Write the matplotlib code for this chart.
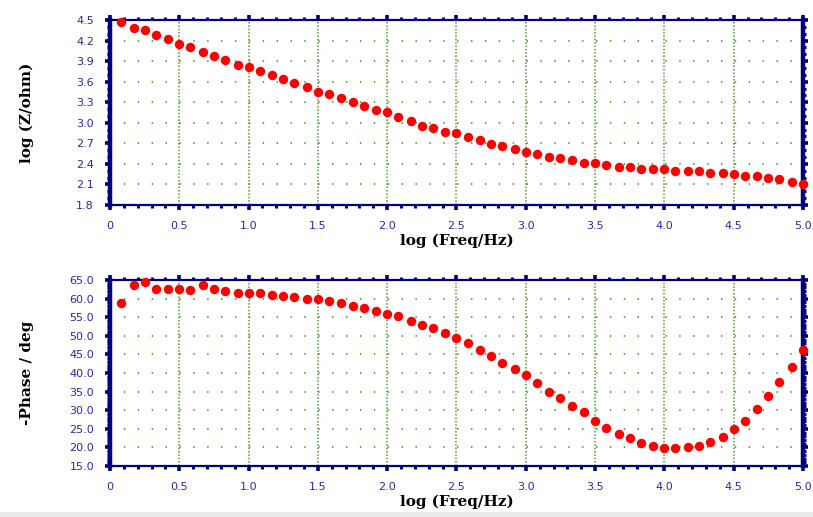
import numpy as np
import matplotlib
matplotlib.use("Agg")
import matplotlib.pyplot as plt
from matplotlib.ticker import MultipleLocator, FuncFormatter
from matplotlib.patches import Rectangle

# log frequency of each measured point
log_freq = [0.08, 0.17, 0.25, 0.33, 0.42, 0.50, 0.58, 0.67, 0.75, 0.83,
            0.92, 1.00, 1.08, 1.17, 1.25, 1.33, 1.42, 1.50, 1.58, 1.67,
            1.75, 1.83, 1.92, 2.00, 2.08, 2.17, 2.25, 2.33, 2.42, 2.50,
            2.58, 2.67, 2.75, 2.83, 2.92, 3.00, 3.08, 3.17, 3.25, 3.33,
            3.42, 3.50, 3.58, 3.67, 3.75, 3.83, 3.92, 4.00, 4.08, 4.17,
            4.25, 4.33, 4.42, 4.50, 4.58, 4.67, 4.75, 4.83, 4.92, 5.00]

log_z = [4.47, 4.39, 4.35, 4.28, 4.22, 4.15, 4.10, 4.03, 3.97, 3.91,
         3.85, 3.82, 3.76, 3.70, 3.64, 3.58, 3.52, 3.45, 3.42, 3.36,
         3.30, 3.24, 3.18, 3.15, 3.09, 3.02, 2.96, 2.93, 2.87, 2.85,
         2.79, 2.75, 2.69, 2.66, 2.61, 2.57, 2.54, 2.50, 2.48, 2.45,
         2.41, 2.42, 2.39, 2.35, 2.35, 2.33, 2.33, 2.33, 2.29, 2.29,
         2.29, 2.26, 2.26, 2.25, 2.23, 2.22, 2.20, 2.18, 2.14, 2.11]

neg_phase = [58.7, 63.7, 64.4, 62.7, 62.7, 62.7, 62.3, 63.6, 62.7, 62.1,
             61.4, 61.4, 61.6, 61.0, 60.6, 60.4, 59.9, 59.8, 59.3, 58.7,
             58.0, 57.6, 56.7, 55.8, 55.3, 54.0, 53.0, 52.0, 50.7, 49.4,
             48.0, 46.2, 44.6, 42.8, 41.1, 39.5, 37.3, 35.0, 33.2, 31.0,
             29.4, 27.1, 25.3, 23.5, 22.5, 21.3, 20.3, 19.8, 19.8, 20.2,
             20.5, 21.4, 22.9, 24.9, 27.0, 30.3, 33.8, 37.7, 41.7, 46.2]

NAVY = "#00007f"
GREEN = "#4f9a2f"
TICK_TXT = "#2828a8"
LABEL_FONT = ["DejaVu Serif"]
TICK_FONT = ["DejaVu Sans"]


def style_axes(ax, ylim, ymajor, yminor, yfmt, ylabel):
    ax.set_xlim(0, 5.0)
    ax.set_ylim(*ylim)
    ax.xaxis.set_major_locator(MultipleLocator(0.5))
    ax.xaxis.set_minor_locator(MultipleLocator(0.1))
    ax.yaxis.set_major_locator(MultipleLocator(ymajor))
    ax.yaxis.set_minor_locator(MultipleLocator(yminor))
    ax.xaxis.set_major_formatter(
        FuncFormatter(lambda v, p: "0" if abs(v) < 1e-9 else f"{v:.1f}"))
    ax.yaxis.set_major_formatter(FuncFormatter(lambda v, p: yfmt.format(v)))

    for side in ("top", "bottom"):
        ax.spines[side].set_color(NAVY)
        ax.spines[side].set_linewidth(1.6)
    for side in ("left", "right"):
        ax.spines[side].set_color(NAVY)
        ax.spines[side].set_linewidth(3.2)

    ax.tick_params(which="both", direction="out", color=NAVY,
                   top=True, bottom=True, left=True, right=True,
                   labeltop=False, labelright=False)
    ax.tick_params(which="major", length=3.5, width=2.6)
    ax.tick_params(which="minor", length=2.2, width=2.2)
    ax.tick_params(axis="x", which="major", pad=8)
    ax.tick_params(axis="y", which="major", pad=8)
    for lab in ax.get_xticklabels() + ax.get_yticklabels():
        lab.set_fontfamily(TICK_FONT)
        lab.set_fontsize(8)
        lab.set_color(TICK_TXT)

    # vertical grid: dense dotted, horizontal grid: sparse dots every 0.1
    ax.xaxis.grid(True, which="major", color=GREEN, linestyle=(0, (1, 1.2)),
                  linewidth=1.1)
    ax.yaxis.grid(True, which="major", color=GREEN,
                  linestyle=(0, (0.77, 6.92)), linewidth=1.3)
    ax.set_axisbelow(True)

    ax.set_xlabel("log (Freq/Hz)", fontfamily=LABEL_FONT, fontweight="bold",
                  fontsize=11, labelpad=2)
    ax.set_ylabel(ylabel, fontfamily=LABEL_FONT, fontweight="bold",
                  fontsize=11)


fig = plt.figure(figsize=(8.13, 5.17), dpi=100)
ax1 = fig.add_axes([0.1353, 0.6035, 0.8524, 0.3578])
ax2 = fig.add_axes([0.1353, 0.0986, 0.8524, 0.3598])

ax1.plot(log_freq, log_z, "o", color="#ff0000", markersize=6.8,
         markeredgewidth=0, clip_on=False, zorder=3)
ax2.plot(log_freq, neg_phase, "o", color="#ff0000", markersize=6.8,
         markeredgewidth=0, clip_on=False, zorder=3)

style_axes(ax1, (1.8, 4.5), 0.3, 0.1, "{:.1f}", "log (Z/ohm)")
style_axes(ax2, (15.0, 65.0), 5.0, 1.0, "{:.1f}", "-Phase / deg")

for ax in (ax1, ax2):
    ax.yaxis.set_label_coords(-0.11, 0.5)

# light grey strip at the very bottom of the page image
fig.patches.append(Rectangle((0, 0), 1, 5 / 517, transform=fig.transFigure,
                             facecolor="#ebebeb", edgecolor="none"))

fig.savefig("out.png", dpi=100)
